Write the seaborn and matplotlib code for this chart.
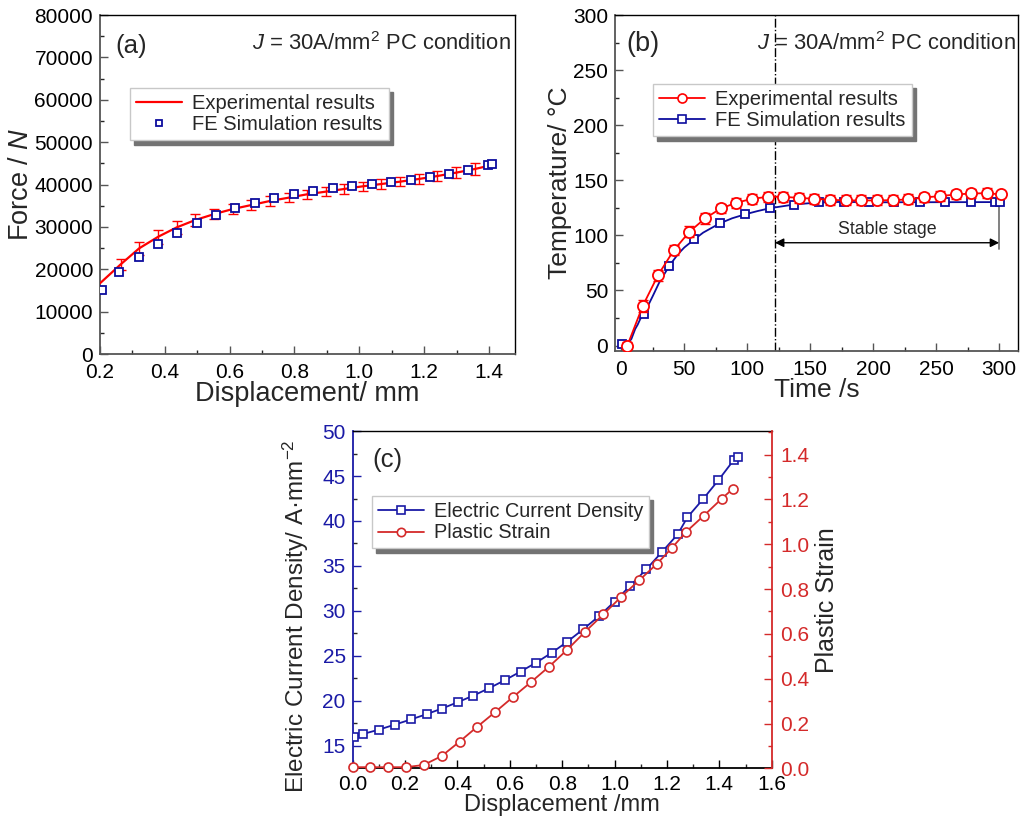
import numpy as np
import pandas as pd
import matplotlib
matplotlib.use("Agg")
import matplotlib.pyplot as plt
from matplotlib.lines import Line2D
from matplotlib.ticker import MultipleLocator, FormatStrFormatter
import seaborn as sns

# ---------------- data: panel (a) ----------------
fe_disp = [0.205, 0.259, 0.320, 0.379, 0.439, 0.498, 0.558, 0.617, 0.678, 0.738, 0.799,
           0.858, 0.918, 0.978, 1.038, 1.098, 1.158, 1.218, 1.277, 1.336, 1.396, 1.410]
fe_force = [15100, 19280, 22890, 25960, 28630, 30900, 32800, 34380, 35710, 36810, 37760,
            38460, 39100, 39650, 40120, 40590, 41140, 41770, 42480, 43350, 44530, 44770]
exp_disp = [0.200, 0.264, 0.321, 0.380, 0.437, 0.494, 0.553, 0.610, 0.667, 0.724, 0.782,
            0.838, 0.896, 0.953, 1.010, 1.068, 1.125, 1.183, 1.241, 1.298, 1.356, 1.410]
exp_force = [16680, 21160, 24940, 27690, 29890, 31620, 33040, 34220, 35160, 36110, 36890,
             37680, 38310, 38940, 39570, 40120, 40670, 41300, 42010, 42790, 43660, 44600]
exp_force_err = [0, 1340, 1570, 1690, 1570, 1380, 1220, 1180, 1150, 1100, 1100,
                 1100, 1100, 1100, 1100, 1100, 1100, 1150, 1180, 1300, 1380, 0]

# ---------------- data: panel (b) ----------------
exp_time = [4.8, 17.0, 29.2, 41.6, 54.1, 66.5, 78.9, 91.1, 103.8, 116.5, 128.7, 140.9, 153.3,
            165.8, 178.2, 190.7, 203.1, 215.6, 228.0, 240.4, 252.9, 265.6, 278.0, 290.5, 301.4]
exp_temp = [0.0, 36.0, 64.0, 86.4, 103.3, 115.4, 124.4, 129.5, 133.2, 135.0, 135.0, 134.0, 133.2,
            132.3, 131.7, 131.7, 131.7, 132.0, 132.6, 134.4, 135.6, 137.1, 138.0, 138.3, 137.1]
exp_temp_err = [3, 5.3, 5, 4.5, 5, 5, 4.5, 4.5, 4.5, 4.5, 4.5, 4.5, 4.5,
                4.5, 4.5, 4.5, 4.5, 4.5, 4.5, 4.5, 4.5, 4.5, 4.5, 4.5, 0]
sim_time = [0.3, 18.0, 38.2, 58.0, 78.2, 98.0, 118.2, 137.2, 156.8, 177.0, 197.0, 216.9,
            237.0, 257.2, 277.3, 296.9, 300.3]
sim_temp = [1.8, 28.7, 72.5, 96.4, 110.9, 119.0, 124.7, 128.0, 129.9, 130.4, 130.0, 130.2,
            130.2, 130.2, 130.2, 130.2, 130.2]
sim_curve_time = [0.3, 5.0, 8.0, 11.0, 13.0, 15.0, 18.0, 25.0, 30.0, 38.2, 45.0, 50.0, 58.0,
                  65.0, 78.2, 88.0, 98.0, 108.0, 118.2, 137.2, 156.8, 177.0, 197.0, 300.3]
sim_curve_temp = [1.8, 1.5, 6.0, 15.0, 19.0, 24.0, 28.7, 45.0, 57.0, 72.5, 83.0, 89.0, 96.4,
                  102.5, 110.9, 115.5, 119.0, 122.0, 124.7, 128.0, 129.9, 130.4, 130.0, 130.2]
stable_start = 122
stable_end = 300

# ---------------- data: panel (c) ----------------
ecd_disp = [0.005, 0.041, 0.101, 0.162, 0.222, 0.282, 0.341, 0.401, 0.461, 0.521, 0.581,
            0.641, 0.701, 0.761, 0.820, 0.880, 0.940, 1.000, 1.060, 1.121, 1.181, 1.241,
            1.278, 1.338, 1.396, 1.455, 1.470]
ecd_val = [15.97, 16.33, 16.81, 17.37, 17.93, 18.52, 19.15, 19.85, 20.59, 21.41, 22.30,
           23.26, 24.26, 25.37, 26.59, 27.96, 29.41, 31.04, 32.81, 34.63, 36.56, 38.52,
           40.41, 42.44, 44.52, 46.78, 47.07]
ps_disp = [0.003, 0.065, 0.134, 0.203, 0.271, 0.340, 0.408, 0.476, 0.545, 0.613, 0.682,
           0.750, 0.819, 0.888, 0.957, 1.025, 1.094, 1.163, 1.220, 1.273, 1.341, 1.410, 1.452]
ps_val = [0.005, 0.005, 0.005, 0.005, 0.015, 0.055, 0.119, 0.186, 0.252, 0.319, 0.386,
          0.454, 0.529, 0.610, 0.687, 0.765, 0.839, 0.914, 0.985, 1.055, 1.128, 1.204, 1.248]

# ---------------- style ----------------
sns.set_theme(style="ticks")
plt.rcParams["font.family"] = ["Liberation Sans", "DejaVu Sans"]
plt.rcParams["mathtext.fontset"] = "custom"
plt.rcParams["mathtext.rm"] = "Liberation Sans"
plt.rcParams["mathtext.it"] = "Liberation Sans:italic"
plt.rcParams["mathtext.bf"] = "Liberation Sans:bold"

RED = "#ff0000"
BLUE = "#0d0d9e"
C_BLUE = "#1a1aa6"
C_RED = "#d42a2a"
LEG_FS = 14.5
PANEL_FS = 18.5
NOTE_FS = 15.8

fig = plt.figure(figsize=(10.22, 8.25), dpi=100)
ax_a = fig.add_axes([0.0978, 0.5709, 0.4061, 0.4109])
ax_b = fig.add_axes([0.6018, 0.5745, 0.3943, 0.4073])
ax_c = fig.add_axes([0.3451, 0.0687, 0.4100, 0.4088])


def style_axes(ax, tick_fs, left_color="#555555", bottom_color="#555555"):
    for s in ["top", "right"]:
        ax.spines[s].set_color("black")
        ax.spines[s].set_linewidth(1.0)
    ax.spines["left"].set_color(left_color)
    ax.spines["bottom"].set_color(bottom_color)
    ax.spines["left"].set_linewidth(1.3)
    ax.spines["bottom"].set_linewidth(1.3)
    ax.tick_params(which="both", direction="in", top=False, right=False,
                   labelsize=tick_fs)
    ax.tick_params(axis="x", pad=6.5)
    ax.tick_params(axis="y", pad=5)
    ax.tick_params(which="major", length=6, width=1.0)
    ax.tick_params(which="minor", length=3, width=1.0)
    ax.tick_params(axis="y", colors=left_color, labelcolor="black")
    ax.tick_params(axis="x", colors=bottom_color, labelcolor="black")


def shadow_legend(ax, handles, labels, loc_xy, fs=LEG_FS):
    leg = ax.legend(handles, labels, loc="upper left", bbox_to_anchor=loc_xy,
                    fontsize=fs, frameon=True, fancybox=False,
                    shadow={"ox": 3, "oy": -3, "color": "0.45", "alpha": 1.0},
                    edgecolor="#c8c8c8", framealpha=1.0, handlelength=2.3,
                    borderpad=0.3, labelspacing=0.12, handletextpad=0.5,
                    borderaxespad=0.0)
    leg.get_frame().set_linewidth(1.0)
    return leg


# ---------------- panel (a) ----------------
sns.lineplot(x=exp_disp, y=exp_force, ax=ax_a, color=RED, lw=1.6, sort=False,
             errorbar=None, zorder=3)
err_idx = [i for i, e in enumerate(exp_force_err) if e > 0]
ax_a.errorbar([exp_disp[i] for i in err_idx], [exp_force[i] for i in err_idx],
              yerr=[exp_force_err[i] for i in err_idx], fmt="none", ecolor=RED,
              elinewidth=1.0, capsize=3.5, capthick=1.0, zorder=3)
sns.lineplot(x=fe_disp, y=fe_force, ax=ax_a, linestyle="none", marker="s",
             markersize=5.5, markerfacecolor="white", markeredgecolor=BLUE,
             markeredgewidth=1.3, color=BLUE, sort=False, errorbar=None, zorder=4)
ax_a.set_xlim(0.2, 1.48)
ax_a.set_ylim(0, 80000)
ax_a.xaxis.set_major_locator(MultipleLocator(0.2))
ax_a.xaxis.set_minor_locator(MultipleLocator(0.1))
ax_a.xaxis.set_major_formatter(FormatStrFormatter("%.1f"))
ax_a.yaxis.set_major_locator(MultipleLocator(10000))
ax_a.yaxis.set_minor_locator(MultipleLocator(5000))
style_axes(ax_a, 15)
ax_a.set_xlabel("Displacement/ mm", fontsize=19.5, labelpad=-1)
ax_a.set_ylabel("Force / $\\it{N}$", fontsize=19.5, labelpad=0)
ax_a.text(0.036, 0.91, "(a)", transform=ax_a.transAxes, fontsize=PANEL_FS,
          ha="left", va="center")
ax_a.text(0.99, 0.915, "$J$ = 30A/mm$^2$ PC condition", transform=ax_a.transAxes,
          fontsize=NOTE_FS, ha="right", va="center")
h_a = [Line2D([], [], color=RED, lw=1.6),
       Line2D([], [], ls="none", marker="s", ms=5, mfc="white", mec=BLUE, mew=1.3)]
shadow_legend(ax_a, h_a, ["Experimental results", "FE Simulation results"], (0.072, 0.785))

# ---------------- panel (b) ----------------
ax_b.axvline(stable_start, color="black", lw=1.0, ls="-.", zorder=1)
sns.lineplot(x=sim_curve_time, y=sim_curve_temp, ax=ax_b, color=BLUE, lw=1.3,
             sort=False, errorbar=None, zorder=3)
sns.lineplot(x=sim_time, y=sim_temp, ax=ax_b, linestyle="none", marker="s",
             markersize=6, markerfacecolor="white", markeredgecolor=BLUE,
             markeredgewidth=1.3, color=BLUE, sort=False, errorbar=None, zorder=4)
sns.lineplot(x=exp_time, y=exp_temp, ax=ax_b, color=RED, lw=1.3, marker="o",
             markersize=8, markerfacecolor="white", markeredgecolor=RED,
             markeredgewidth=1.3, sort=False, errorbar=None, zorder=5)
eidx = [i for i, e in enumerate(exp_temp_err) if e > 0]
ax_b.errorbar([exp_time[i] for i in eidx], [exp_temp[i] for i in eidx],
              yerr=[exp_temp_err[i] for i in eidx], fmt="none", ecolor=RED,
              elinewidth=1.0, capsize=3.5, capthick=1.0, zorder=4.5)
ax_b.annotate("", xy=(stable_start, 93.3), xytext=(stable_end, 93.3),
              arrowprops=dict(arrowstyle="<|-|>", color="black", lw=1.0,
                              mutation_scale=13, shrinkA=0, shrinkB=0))
ax_b.plot([stable_end, stable_end], [88, 139.5], color="#777777", lw=1.3, zorder=2)
ax_b.text((stable_start + stable_end) / 2, 105.5, "Stable stage", fontsize=12.8,
          ha="center", va="center")
ax_b.set_xlim(-5, 315)
ax_b.set_ylim(-5, 300)
ax_b.xaxis.set_major_locator(MultipleLocator(50))
ax_b.xaxis.set_minor_locator(MultipleLocator(25))
ax_b.yaxis.set_major_locator(MultipleLocator(50))
ax_b.yaxis.set_minor_locator(MultipleLocator(25))
style_axes(ax_b, 15)
ax_b.set_xlabel("Time /s", fontsize=19, labelpad=-1)
ax_b.set_ylabel("Temperature/ °C", fontsize=19, labelpad=1)
ax_b.text(0.027, 0.915, "(b)", transform=ax_b.transAxes, fontsize=19.5,
          ha="left", va="center")
ax_b.text(0.995, 0.915, "$J$ = 30A/mm$^2$ PC condition", transform=ax_b.transAxes,
          fontsize=NOTE_FS, ha="right", va="center")
h_b = [Line2D([], [], color=RED, lw=1.3, marker="o", ms=6.5, mfc="white", mec=RED, mew=1.2),
       Line2D([], [], color=BLUE, lw=1.3, marker="s", ms=5.5, mfc="white", mec=BLUE, mew=1.2)]
shadow_legend(ax_b, h_b, ["Experimental results", "FE Simulation results"], (0.094, 0.795))

# ---------------- panel (c) ----------------
ax_c2 = ax_c.twinx()
sns.lineplot(x=ecd_disp, y=ecd_val, ax=ax_c, color=C_BLUE, lw=1.3, marker="s",
             markersize=6, markerfacecolor="white", markeredgecolor=C_BLUE,
             markeredgewidth=1.2, sort=False, errorbar=None, zorder=3)
sns.lineplot(x=ps_disp, y=ps_val, ax=ax_c2, color=C_RED, lw=1.3, marker="o",
             markersize=6.5, markerfacecolor="white", markeredgecolor=C_RED,
             markeredgewidth=1.2, sort=False, errorbar=None, zorder=3, clip_on=False)
ax_c.set_xlim(0, 1.6)
ax_c.set_ylim(12.5, 50)
ax_c2.set_ylim(0, 1.505)
ax_c.xaxis.set_major_locator(MultipleLocator(0.2))
ax_c.xaxis.set_minor_locator(MultipleLocator(0.1))
ax_c.xaxis.set_major_formatter(FormatStrFormatter("%.1f"))
ax_c.yaxis.set_major_locator(MultipleLocator(5))
ax_c.yaxis.set_minor_locator(MultipleLocator(2.5))
ax_c2.yaxis.set_major_locator(MultipleLocator(0.2))
ax_c2.yaxis.set_minor_locator(MultipleLocator(0.1))
ax_c2.yaxis.set_major_formatter(FormatStrFormatter("%.1f"))
style_axes(ax_c, 15, left_color=C_BLUE, bottom_color="black")
ax_c.tick_params(axis="x", pad=5)
ax_c.tick_params(axis="y", labelcolor=C_BLUE)
for s in ["left", "bottom", "top"]:
    ax_c2.spines[s].set_visible(False)
ax_c2.spines["right"].set_color(C_RED)
ax_c2.spines["right"].set_linewidth(1.3)
ax_c.spines["right"].set_visible(False)
ax_c2.tick_params(which="both", direction="in", right=True, left=False,
                  labelsize=15, colors=C_RED, labelcolor=C_RED, pad=6)
ax_c2.tick_params(which="major", length=6, width=1.0)
ax_c2.tick_params(which="minor", length=3, width=1.0)
ax_c.set_xlabel("Displacement /mm", fontsize=17, labelpad=0)
ax_c.set_ylabel("Electric Current Density/ A·mm$^{-2}$", fontsize=17.5, labelpad=3)
ax_c.yaxis.set_label_coords(-0.1, 0.45)
ax_c2.set_ylabel("Plastic Strain", fontsize=18, labelpad=4)
ax_c.text(0.046, 0.914, "(c)", transform=ax_c.transAxes, fontsize=PANEL_FS,
          ha="left", va="center")
h_c = [Line2D([], [], color=C_BLUE, lw=1.3, marker="s", ms=5.5, mfc="white", mec=C_BLUE, mew=1.2),
       Line2D([], [], color=C_RED, lw=1.3, marker="o", ms=6, mfc="white", mec=C_RED, mew=1.2)]
leg_c = shadow_legend(ax_c2, h_c, ["Electric Current Density", "Plastic Strain"], (0.046, 0.807),
                      fs=14.3)

fig.savefig("out.png", dpi=100)
